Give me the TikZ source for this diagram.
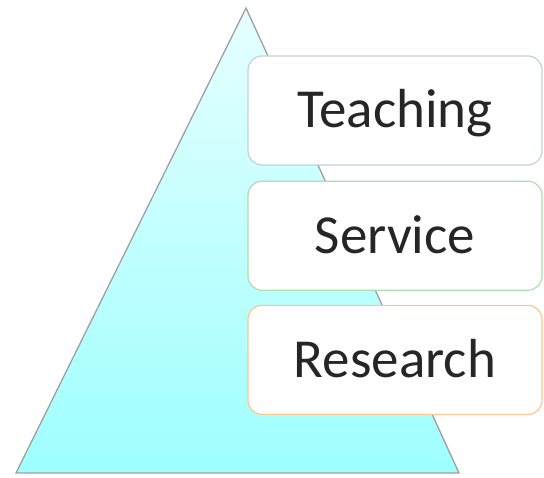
\documentclass[tikz,border=0pt]{standalone}
\usepackage{fontspec}
\setmainfont{Carlito}
\usetikzlibrary{positioning}

\begin{document}
\begin{tikzpicture}[x=1pt,y=1pt,
    part/.style={draw,line width=1.2pt,fill=white,rounded corners=14pt,
        minimum width=294pt,minimum height=109pt,text=black!85,
        font=\fontsize{55}{60}\selectfont,text height=35pt,text depth=0pt}]
\useasboundingbox (0,0) rectangle (544,478);
\coordinate (apex) at (246,470);
\coordinate (base-left) at (16,5);
\coordinate (base-right) at (459,5);
\shade [top color=cyan!10,bottom color=cyan!38,draw=gray!75,line width=1.3pt]
    (apex) -- (base-left) -- (base-right) -- cycle;
\node [part,draw=cyan!25!gray!45] (teaching) at (395,367.5) {Teaching};
\node [part,draw=green!45!gray!45,below=15pt of teaching] (service) {Service};
\node [part,draw=orange!45,below=14pt of service] (research) {Research};
\end{tikzpicture}
\end{document}
